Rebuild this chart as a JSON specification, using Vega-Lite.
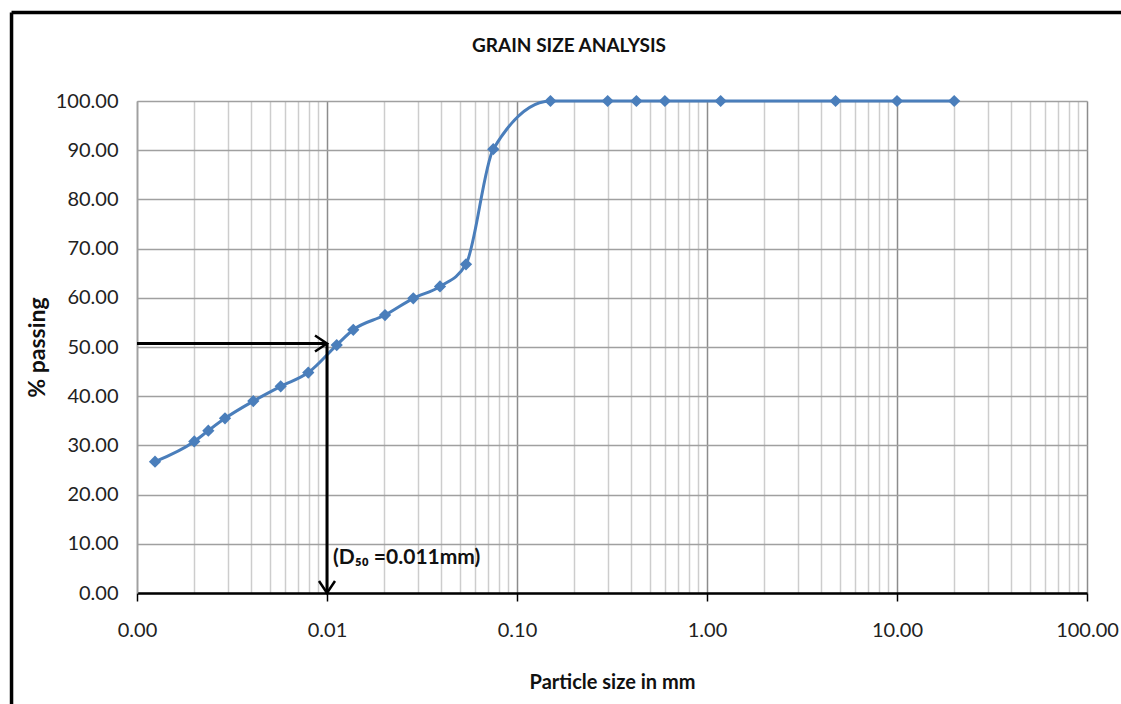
{
  "$schema": "https://vega.github.io/schema/vega-lite/v6.json",
  "autosize": "none",
  "padding": {"left": 137, "top": 101, "right": 34, "bottom": 111},
  "width": 950,
  "height": 492,
  "background": "white",
  "title": {"text": "GRAIN SIZE ANALYSIS", "fontSize": 19, "fontWeight": "bold", "color": "#111", "anchor": "middle", "dx": -43, "offset": -45, "font": "Lato"},
  "datasets": {
    "gradation": [
      {"size": 0.001244, "passing": 26.7},
      {"size": 0.002002, "passing": 30.8},
      {"size": 0.002373, "passing": 33.0},
      {"size": 0.002905, "passing": 35.5},
      {"size": 0.004094, "passing": 39.0},
      {"size": 0.005706, "passing": 42.0},
      {"size": 0.00797, "passing": 44.8},
      {"size": 0.01125, "passing": 50.4},
      {"size": 0.01375, "passing": 53.5},
      {"size": 0.0202, "passing": 56.5},
      {"size": 0.02845, "passing": 59.9},
      {"size": 0.03933, "passing": 62.3},
      {"size": 0.05389, "passing": 66.8},
      {"size": 0.075, "passing": 90.2},
      {"size": 0.15, "passing": 100},
      {"size": 0.3, "passing": 100},
      {"size": 0.425, "passing": 100},
      {"size": 0.6, "passing": 100},
      {"size": 1.18, "passing": 100},
      {"size": 4.75, "passing": 100},
      {"size": 10, "passing": 100},
      {"size": 20, "passing": 100}
    ],
    "arrows": [
      {"x": 0.001, "y": 50.7, "x2": 0.01, "y2": 50.7},
      {"x": 0.01, "y": 50.7, "x2": 0.01, "y2": 0}
    ],
    "heads": [
      {"x": 0.01, "y": 50.7, "dir": "right"},
      {"x": 0.01, "y": 0, "dir": "down"}
    ],
    "note": [
      {"x": 0.01, "y": 7.2, "label": "(D₅₀ =0.011mm)"}
    ]
  },
  "layer": [
    {
      "data": {"name": "gradation"},
      "mark": {"type": "line", "interpolate": "monotone", "color": "#4a7ebb", "strokeWidth": 3},
      "encoding": {
        "x": {
          "field": "size", "type": "quantitative",
          "scale": {"type": "log", "domain": [0.001, 100], "nice": false},
          "axis": {
            "values": [0.001, 0.002, 0.003, 0.004, 0.005, 0.006, 0.007, 0.008, 0.009, 0.01, 0.02, 0.03, 0.04, 0.05, 0.06, 0.07, 0.08, 0.09, 0.1, 0.2, 0.3, 0.4, 0.5, 0.6, 0.7, 0.8, 0.9, 1, 2, 3, 4, 5, 6, 7, 8, 9, 10, 20, 30, 40, 50, 60, 70, 80, 90, 100],
            "labelExpr": "abs(log(datum.value)/LN10 - round(log(datum.value)/LN10)) < 1e-6 ? format(datum.value, '.2f') : ''",
            "grid": true,
            "gridColor": {"condition": {"test": "abs(log(datum.value)/LN10 - round(log(datum.value)/LN10)) < 1e-6", "value": "#8c8c8c"}, "value": "#cdcdcd"},
            "gridWidth": 1.5,
            "ticks": true,
            "tickSize": 8,
            "tickColor": "#000",
            "tickWidth": 1.5,
            "tickOpacity": {"condition": {"test": "abs(log(datum.value)/LN10 - round(log(datum.value)/LN10)) < 1e-6", "value": 1}, "value": 0},
            "domainColor": "#000",
            "domainWidth": 2.5,
            "labelFont": "Lato",
            "labelFontSize": 20,
            "labelColor": "#222",
            "labelPadding": 19,
            "labelOverlap": false,
            "labelFlush": false,
            "title": "Particle size in mm",
            "titleFont": "Lato",
            "titleFontSize": 20,
            "titleFontWeight": "bold",
            "titleColor": "#111",
            "titlePadding": 32
          }
        },
        "y": {
          "field": "passing", "type": "quantitative",
          "scale": {"domain": [0, 100], "nice": false},
          "axis": {
            "values": [0, 10, 20, 30, 40, 50, 60, 70, 80, 90, 100],
            "format": ".2f",
            "grid": true,
            "gridColor": "#a0a0a0",
            "gridWidth": 1.5,
            "ticks": false,
            "domainColor": "#a0a0a0",
            "domainWidth": 1.5,
            "labelFont": "Lato",
            "labelFontSize": 20,
            "labelColor": "#222",
            "labelPadding": 19,
            "title": "% passing",
            "titleFont": "Lato",
            "titleFontSize": 23,
            "titleFontWeight": "bold",
            "titleColor": "#111",
            "titlePadding": 6
          }
        }
      }
    },
    {
      "data": {"values": [{}]},
      "mark": {"type": "rule", "color": "#000", "strokeWidth": 3.5, "clip": false},
      "encoding": {
        "x": {"datum": 0.0002186, "type": "quantitative", "scale": {"type": "log", "domain": [0.001, 100], "nice": false}},
        "y": {"datum": 118.0, "type": "quantitative", "scale": {"domain": [0, 100], "nice": false}},
        "y2": {"datum": -30}
      }
    },
    {
      "data": {"values": [{}]},
      "mark": {"type": "rule", "color": "#000", "strokeWidth": 3.5, "clip": false},
      "encoding": {
        "x": {"datum": 0.0002186, "type": "quantitative", "scale": {"type": "log", "domain": [0.001, 100], "nice": false}},
        "x2": {"datum": 500},
        "y": {"datum": 118.0, "type": "quantitative", "scale": {"domain": [0, 100], "nice": false}}
      }
    },
    {
      "data": {"name": "gradation"},
      "mark": {"type": "point", "shape": "diamond", "filled": true, "size": 150, "color": "#4a7ebb", "opacity": 1},
      "encoding": {
        "x": {"field": "size", "type": "quantitative", "scale": {"type": "log", "domain": [0.001, 100], "nice": false}},
        "y": {"field": "passing", "type": "quantitative", "scale": {"domain": [0, 100], "nice": false}}
      }
    },
    {
      "data": {"name": "arrows"},
      "mark": {"type": "rule", "color": "#000", "strokeWidth": 3},
      "encoding": {
        "x": {"field": "x", "type": "quantitative", "scale": {"type": "log", "domain": [0.001, 100], "nice": false}},
        "x2": {"field": "x2"},
        "y": {"field": "y", "type": "quantitative", "scale": {"domain": [0, 100], "nice": false}},
        "y2": {"field": "y2"}
      }
    },
    {
      "data": {"name": "heads"},
      "mark": {"type": "point", "filled": false, "size": 256, "strokeWidth": 2.5, "color": "#000", "opacity": 1},
      "encoding": {
        "x": {"field": "x", "type": "quantitative", "scale": {"type": "log", "domain": [0.001, 100], "nice": false}},
        "y": {"field": "y", "type": "quantitative", "scale": {"domain": [0, 100], "nice": false}},
        "shape": {"field": "dir", "type": "nominal", "scale": {"domain": ["right", "down"], "range": ["M-1.5,-1L0,0L-1.5,1", "M-1,-1.5L0,0L1,-1.5"]}, "legend": null}
      }
    },
    {
      "data": {"name": "note"},
      "mark": {"type": "text", "align": "left", "baseline": "middle", "dx": 6, "font": "Lato", "fontSize": 21, "fontWeight": "bold", "color": "#111"},
      "encoding": {
        "x": {"field": "x", "type": "quantitative", "scale": {"type": "log", "domain": [0.001, 100], "nice": false}},
        "y": {"field": "y", "type": "quantitative", "scale": {"domain": [0, 100], "nice": false}},
        "text": {"field": "label"}
      }
    }
  ]
}
